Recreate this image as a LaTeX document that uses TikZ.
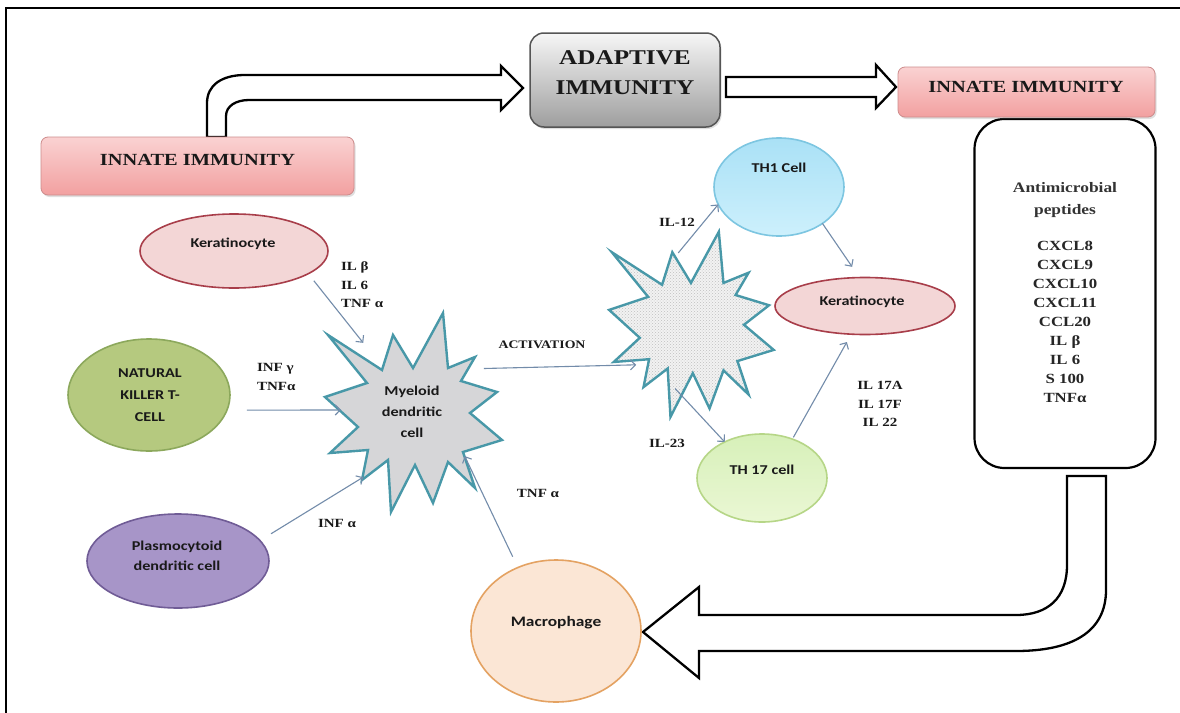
\documentclass[tikz,border=0pt]{standalone}
\usepackage{fontspec}
\setmainfont{Liberation Serif}[FakeStretch=1.2]
\newfontfamily\sansfont{Carlito}[FakeStretch=1.2]
\usetikzlibrary{arrows.meta,shapes.geometric,shadows,patterns}
\definecolor{innTop}{RGB}{250,210,210}
\definecolor{innBot}{RGB}{242,160,160}
\definecolor{innBd}{RGB}{205,140,140}
\definecolor{adTop}{RGB}{246,246,246}
\definecolor{adBot}{RGB}{158,158,158}
\definecolor{adBd}{RGB}{85,85,85}
\definecolor{kerFill}{RGB}{243,214,214}
\definecolor{kerBd}{RGB}{168,62,74}
\definecolor{nkFill}{RGB}{181,201,127}
\definecolor{nkBd}{RGB}{140,168,92}
\definecolor{pdcFill}{RGB}{167,149,200}
\definecolor{pdcBd}{RGB}{112,92,150}
\definecolor{thOneTop}{RGB}{170,225,246}
\definecolor{thOneBot}{RGB}{205,240,252}
\definecolor{thOneBd}{RGB}{125,198,225}
\definecolor{thSevTop}{RGB}{215,240,185}
\definecolor{thSevBot}{RGB}{234,247,212}
\definecolor{thSevBd}{RGB}{182,214,135}
\definecolor{macFill}{RGB}{251,230,213}
\definecolor{macBd}{RGB}{228,162,98}
\definecolor{starBd}{RGB}{72,152,168}
\definecolor{starFill}{RGB}{214,214,216}
\definecolor{connC}{RGB}{115,140,170}
\definecolor{txt}{RGB}{25,25,25}
\begin{document}
\begin{tikzpicture}[x=1pt,y=-1pt,
  every node/.style={inner sep=0pt, outer sep=0pt},
  shadowed/.style={drop shadow={opacity=0.25,shadow xshift=1.5pt,shadow yshift=-2pt}},
  innbox/.style={draw=innBd, line width=0.8pt, rounded corners=7pt, top color=innTop, bottom color=innBot, shadowed},
  titletext/.style={font=\fontsize{17}{20}\selectfont\bfseries, text=txt},
  cell/.style={ellipse, line width=1.6pt},
  celltext/.style={font=\sansfont\bfseries\fontsize{13.5}{20}\selectfont, text=txt, align=center},
  lbl/.style={font=\bfseries\fontsize{12.5}{18.5}\selectfont, text=txt},
  hollow/.style={draw=black, line width=2.3pt, fill=white, line join=miter},
  starline/.style={draw=starBd, line width=2.4pt, line join=miter},
  conn/.style={draw=connC, line width=1.1pt, -{Straight Barb[length=5pt,width=10pt]}}
]
\useasboundingbox (0,0) rectangle (1180,712);
\fill[white] (0,0) rectangle (1180,712);
% frame
\draw[line width=2.5pt] (6,714) -- (6,8) -- (1182,8);

% hollow arrows
\draw[hollow] (207,137) -- (207,103) .. controls (207,85) and (222,75) .. (245,75) -- (501,75) -- (501,66) -- (523,88) -- (501,110) -- (501,100) -- (249,100) .. controls (236,100) and (226,106) .. (226,116) -- (226,137) -- cycle;
\draw[hollow] (726,77) -- (876,77) -- (876,65) -- (896,87) -- (876,108) -- (876,97) -- (726,97) -- cycle;
\draw[hollow] (1067,476) -- (1067,565) .. controls (1067,598) and (1048,615) .. (1016,615) -- (699,615) -- (699,587) -- (643,632) -- (699,678) -- (699,651) -- (1016,651) .. controls (1072,651) and (1106,632) .. (1106,590) -- (1106,476) -- cycle;

% boxes
\node[innbox, minimum width=313pt, minimum height=58pt] (innL) at (197.5,166) {};
\node[titletext] (innLt) at (197.5,160) {INNATE IMMUNITY};
\node[draw=adBd, line width=1.5pt, rounded corners=14pt, top color=adTop, bottom color=adBot, shadowed, minimum width=190pt, minimum height=94pt] (adapt) at (625,80) {};
\node[font=\fontsize{21}{30}\selectfont\bfseries, text=txt, align=center] (adaptt) at (625,73) {ADAPTIVE\\IMMUNITY};
\node[draw=black, line width=2.2pt, rounded corners=30pt, fill=white, minimum width=181pt, minimum height=349pt] (bigbox) at (1065,293.5) {};
\node[innbox, minimum width=257pt, minimum height=50pt] (innR) at (1026.5,92) {};
\node[titletext] (innRt) at (1026,87) {INNATE IMMUNITY};
\node[font=\bfseries\fontsize{14.5}{22}\selectfont, text=black!80, align=center] (amp) at (1065,200) {Antimicrobial\\peptides};
\node[font=\bfseries\fontsize{14}{19}\selectfont, text=black!85, align=center] (amplist) at (1065,322) {CXCL8\\CXCL9\\CXCL10\\CXCL11\\CCL20\\IL β\\IL 6\\S 100\\TNFα};

% cells
\node[cell, draw=kerBd, fill=kerFill, minimum width=188pt, minimum height=74pt] (ker1) at (234,251) {};
\node[celltext] (ker1t) at (233,244) {Keratinocyte};
\node[cell, draw=nkBd, fill=nkFill, minimum width=162pt, minimum height=112pt] (nk) at (149,395) {};
\node[celltext, font=\sansfont\bfseries\fontsize{13.5}{22}\selectfont] (nkt) at (150,395) {NATURAL\\KILLER T-\\CELL};
\node[cell, draw=pdcBd, fill=pdcFill, minimum width=182pt, minimum height=94pt] (pdc) at (178,561) {};
\node[celltext] (pdct) at (177,556) {Plasmocytoid\\dendritic cell};
\node[cell, top color=thOneTop, bottom color=thOneBot, draw=thOneBd, minimum width=130pt, minimum height=98pt] (th1) at (779,187) {};
\node[celltext] (th1t) at (779,168) {TH1 Cell};
\node[cell, draw=kerBd, fill=kerFill, minimum width=180pt, minimum height=57pt] (ker2) at (865,306) {};
\node[celltext] (ker2t) at (862,302) {Keratinocyte};
\node[cell, top color=thSevTop, bottom color=thSevBot, draw=thSevBd, minimum width=130pt, minimum height=88pt] (th17) at (762,478) {};
\node[celltext] (th17t) at (762,470) {TH 17 cell};
\node[cell, draw=macBd, fill=macFill, minimum width=170pt, minimum height=142pt] (mac) at (556,631) {};
\node[celltext, font=\sansfont\bfseries\fontsize{14.5}{20}\selectfont] (mact) at (556,623) {Macrophage};

% stars
\begin{scope}[shift={(412,410)}]
\draw[starline, fill=starFill] (-84,-75) -- (-30,-40) -- (-19,-75) -- (1,-42) -- (31,-97) -- (36,-42) -- (63,-53) -- (49,-29) -- (85,-18) -- (58,3) -- (90,30) -- (51,42) -- (63,78) -- (36,52) -- (21,93) -- (3,55) -- (-21,102) -- (-24,50) -- (-50,70) -- (-44,40) -- (-82,43) -- (-54,17) -- (-87,-13) -- (-45,-27) -- cycle;
\end{scope}
\begin{scope}[shift={(690,322)}, scale=0.93]
\draw[starline, preaction={fill=black!5}, pattern=crosshatch dots, pattern color=black!25] (-84,-75) -- (-30,-40) -- (-19,-75) -- (1,-42) -- (31,-97) -- (36,-42) -- (63,-53) -- (49,-29) -- (85,-18) -- (58,3) -- (90,30) -- (51,42) -- (63,78) -- (36,52) -- (21,93) -- (3,55) -- (-21,102) -- (-24,50) -- (-50,70) -- (-44,40) -- (-82,43) -- (-54,17) -- (-87,-13) -- (-45,-27) -- cycle;
\end{scope}
\node[circle, minimum size=166pt] (star1c) at (412,410) {};
\node[circle, minimum size=154pt] (star2c) at (690,322) {};
\node[celltext, font=\sansfont\bfseries\fontsize{13.5}{21}\selectfont] (myt) at (412,412) {Myeloid\\dendritic\\cell};

% connectors
\draw[conn, shorten <=9pt] (ker1.-17) -- (star1c.126);
\draw[conn, shorten <=20pt, shorten >=-12pt] (nk.-11) -- (star1c.180);
\draw[conn, shorten <=13pt] (pdc.14) -- (star1c.234);
\draw[conn, shorten <=12pt, shorten >=-14pt] (mac.121) -- (star1c.-45);
\draw[conn, shorten >=-10pt] (star1c.30) -- (star2c.214);
\draw[conn, shorten <=-10pt] (star2c.94) -- (th1.196);
\draw[conn, shorten <=-14pt] (star2c.266) -- (th17.136);
\draw[conn, shorten >=13pt] (th1.-40) -- (ker2.101);
\draw[conn, shorten <=2pt, shorten >=9pt] (th17.52) -- (ker2.244);

% labels
\node[lbl, align=left, anchor=west] (lblker) at (341,285) {IL β\\IL 6\\TNF α};
\node[lbl, align=left, anchor=west] (lblnk) at (257,377) {INF γ\\TNFα};
\node[lbl] (lblpdc) at (337,523) {INF α};
\node[lbl] (lblmac) at (538,493) {TNF α};
\node[lbl, font=\bfseries\fontsize{11.5}{14}\selectfont] (lblact) at (542,345) {ACTIVATION};
\node[lbl] (lbl12) at (677,222) {IL-12};
\node[lbl] (lbl23) at (667,443) {IL-23};
\node[lbl, align=center] (lbl17) at (880,404) {IL 17A\\IL 17F\\IL 22};
\end{tikzpicture}
\end{document}
